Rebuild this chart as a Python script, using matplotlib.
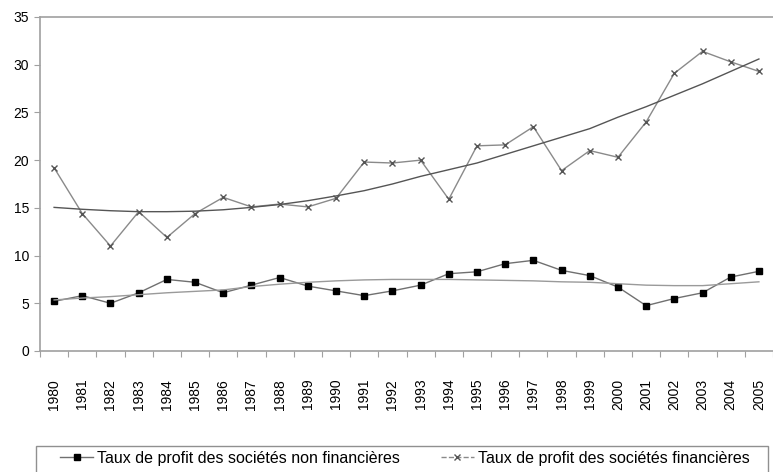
import numpy as np
import matplotlib
matplotlib.use("Agg")
import matplotlib.pyplot as plt
from matplotlib.patches import Rectangle

plt.rcParams['font.family'] = ['Liberation Sans', 'DejaVu Sans']

years = [str(y) for y in range(1980, 2006)]

# Taux de profit des sociétés non financières
non_fin = [5.2, 5.8, 5.0, 6.1, 7.5, 7.2, 6.1, 6.9, 7.7, 6.8, 6.3, 5.8, 6.3,
           6.9, 8.1, 8.3, 9.15, 9.5, 8.45, 7.9, 6.7, 4.75, 5.5, 6.1, 7.75, 8.35]
non_fin_trend = [5.35, 5.55, 5.7, 5.9, 6.1, 6.25, 6.4, 6.75, 7.0, 7.2, 7.35, 7.45, 7.5,
                 7.5, 7.5, 7.45, 7.4, 7.35, 7.25, 7.2, 7.05, 6.9, 6.85, 6.85, 7.05, 7.25]

# Taux de profit des sociétés financières
fin = [19.2, 14.4, 11.0, 14.6, 11.9, 14.4, 16.1, 15.1, 15.4, 15.1, 16.0, 19.8, 19.7,
       20.0, 15.9, 21.5, 21.6, 23.5, 18.9, 21.0, 20.3, 24.0, 29.1, 31.4, 30.3, 29.3]
fin_trend = [15.05, 14.85, 14.7, 14.6, 14.6, 14.65, 14.8, 15.05, 15.35, 15.75, 16.25, 16.8, 17.5,
             18.3, 19.0, 19.7, 20.6, 21.5, 22.4, 23.3, 24.5, 25.6, 26.8, 28.0, 29.3, 30.6]

x = np.arange(len(years))

fig = plt.figure(figsize=(7.73, 4.72), dpi=100)
ax = fig.add_axes([40/773, 121/472, 733/773, 334/472])

grey = '#a0a0a0'

# series financieres
ax.plot(x, fin, color='#8a8a8a', lw=1.0, marker='x', ms=4, mew=1.0, mec='#555555')
ax.plot(x, fin_trend, color='#555555', lw=1.0)

# series non financieres
ax.plot(x, non_fin, color='#707070', lw=1.0, marker='s', ms=4.5, mfc='black', mec='black')
ax.plot(x, non_fin_trend, color='#9a9a9a', lw=1.0)

ax.set_xlim(-0.5, len(years) - 0.5)
ax.set_ylim(0, 35)
ax.set_yticks(range(0, 36, 5))
ax.tick_params(axis='y', labelsize=10, length=4, color=grey, pad=4)

# ticks between categories, labels at centres
ax.set_xticks(np.arange(-0.5, len(years), 1))
ax.set_xticklabels([])
ax.tick_params(axis='x', which='major', length=4, color=grey)
ax.set_xticks(x, minor=True)
ax.set_xticklabels(years, minor=True, rotation=90, fontsize=10)
ax.tick_params(axis='x', which='minor', length=0, pad=20)

for s in ['left', 'bottom', 'top']:
    ax.spines[s].set_color(grey)
    ax.spines[s].set_linewidth(1.2)
ax.spines['right'].set_visible(False)

# legend box
fig.patches.append(Rectangle((36/773, -0.01), 732/773, (472-446)/472 + 0.01,
                             transform=fig.transFigure, fill=False,
                             edgecolor='#909090', lw=1.0))
h1, = ax.plot([], [], color='#707070', lw=1.0, marker='s', ms=4.5, mfc='black', mec='black')
h2, = ax.plot([], [], color='#8a8a8a', lw=1.0, ls='--', marker='x', ms=4, mec='#555555')
fig.legend([h1, h2],
           ['Taux de profit des sociétés non financières',
            'Taux de profit des sociétés financières'],
           loc='center left', bbox_to_anchor=(60/773, 1 - 458/472),
           ncol=2, frameon=False, fontsize=11.5, handlelength=2.07,
           handletextpad=0.25, columnspacing=2.55, borderpad=0, borderaxespad=0)

fig.savefig('out.png', dpi=100)
